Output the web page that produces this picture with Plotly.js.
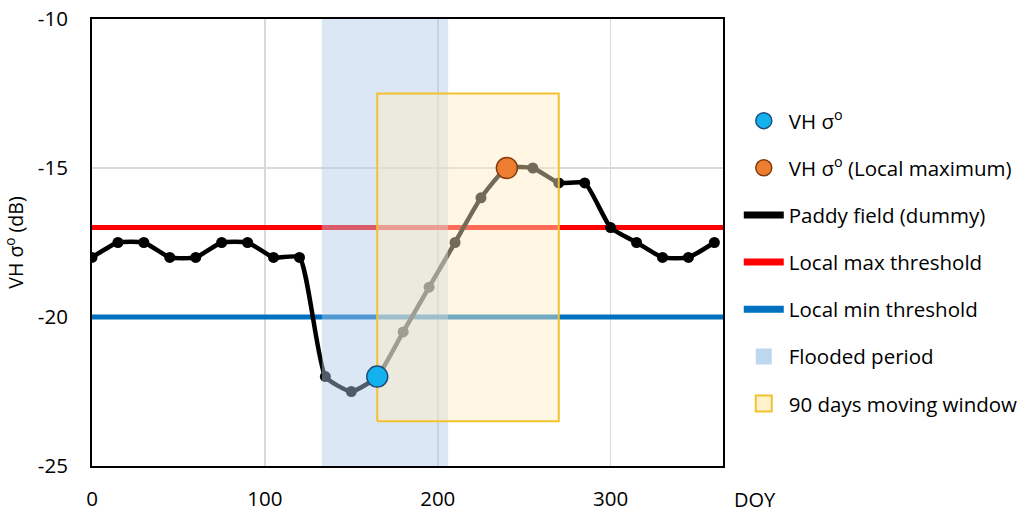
<!DOCTYPE html>
<html><head><meta charset="utf-8">
<script src="https://cdn.plot.ly/plotly-3.0.1.min.js"></script>
<style>html,body{margin:0;padding:0;background:#fff}#chart{width:1032px;height:512px}</style>
</head><body><div id="chart"></div>
<script>
// ---- data ----
const doy = [0,15,30,45,60,75,90,105,120,135,150,165,180,195,210,225,240,255,270,285,300,315,330,345,360];
const vhDb = [-18,-17.5,-17.5,-18,-18,-17.5,-17.5,-18,-18,-22,-22.5,-22,-20.5,-19,-17.5,-16,-15,-15,-15.5,-15.5,-17,-17.5,-18,-18,-17.5];
const localMaxThreshold = -17;
const localMinThreshold = -20;
const doyRange = [0, 365];
const dbRange = [-25, -10];
const floodedPeriod = [133, 206];
const movingWindowDoy = [165, 270];
const movingWindowDb = [-23.5, -12.5];
const vhPointDoy = 165;
const localMaxDoy = 240;
const xTickVals = [0, 100, 200, 300];
const yTickVals = [-25, -20, -15, -10];

// ---- build ----
const FONT = '"Open Sans", "Noto Sans", sans-serif';
const rect = (xs, ys) => ({x: [xs[0], xs[1], xs[1], xs[0], xs[0]], y: [ys[0], ys[0], ys[1], ys[1], ys[0]]});
const fr = rect(floodedPeriod, dbRange);
const wr = rect(movingWindowDoy, movingWindowDb);
const valAt = d => vhDb[doy.indexOf(d)];
const legendOnly = (name, rank, extra) => Object.assign({x: [null], y: [null], name: name,
  legendrank: rank, legendgroup: 'g' + rank, showlegend: true}, extra);

const traces = [
  {x: doyRange, y: [localMaxThreshold, localMaxThreshold], mode: 'lines', showlegend: false,
   line: {color: '#FF0000', width: 5}},
  {x: doyRange, y: [localMinThreshold, localMinThreshold], mode: 'lines', showlegend: false,
   line: {color: '#0070C0', width: 5}},
  {x: doy, y: vhDb, mode: 'lines+markers', showlegend: false,
   line: {color: '#000000', width: 4.5, shape: 'spline', smoothing: 0.5},
   marker: {color: '#000000', size: 11}},
  {x: fr.x, y: fr.y, mode: 'lines', fill: 'toself', fillcolor: 'rgba(178,202,235,0.45)',
   line: {width: 0}, showlegend: false},
  {x: wr.x, y: wr.y, mode: 'lines', fill: 'toself', fillcolor: 'rgba(255,238,195,0.45)',
   line: {color: '#F2C22E', width: 2}, showlegend: false},
  {x: [vhPointDoy], y: [valAt(vhPointDoy)], mode: 'markers', showlegend: false,
   marker: {color: '#14B1EE', size: 21, line: {color: '#1F4E79', width: 1.5}}},
  {x: [localMaxDoy], y: [valAt(localMaxDoy)], mode: 'markers', showlegend: false,
   marker: {color: '#ED7D31', size: 21, line: {color: '#843C0C', width: 1.5}}},
  legendOnly('VH σ<sup>o</sup>', 1, {mode: 'markers',
   marker: {color: '#14B1EE', size: 21, line: {color: '#1F4E79', width: 1.5}}}),
  legendOnly('VH σ<sup>o</sup> (Local maximum)', 2, {mode: 'markers',
   marker: {color: '#ED7D31', size: 21, line: {color: '#843C0C', width: 1.5}}}),
  legendOnly('Paddy field (dummy)', 3, {mode: 'lines', line: {color: '#000000', width: 7}}),
  legendOnly('Local max threshold', 4, {mode: 'lines', line: {color: '#FF0000', width: 7}}),
  legendOnly('Local min threshold', 5, {mode: 'lines', line: {color: '#0070C0', width: 7}}),
  legendOnly('Flooded period', 6, {mode: 'markers',
   marker: {symbol: 'square', color: '#BDD7EE', size: 24}}),
  legendOnly('90 days moving window', 7, {mode: 'markers',
   marker: {symbol: 'square', color: '#FFF2CC', size: 22, line: {color: '#F2C22E', width: 2}}})
];

const layout = {
  width: 1032, height: 512,
  margin: {l: 92, r: 309, t: 19, b: 46, autoexpand: false},
  paper_bgcolor: '#ffffff', plot_bgcolor: '#ffffff',
  font: {family: FONT, size: 20, color: '#000000'},
  showlegend: true,
  hovermode: false,
  legend: {x: 1.025, y: 0.817, xanchor: 'left', yanchor: 'top', traceorder: 'grouped', tracegroupgap: 17.5,
           itemwidth: 40,
           font: {family: FONT, size: 20.5, color: '#000'}, bgcolor: 'rgba(0,0,0,0)'},
  xaxis: {range: doyRange, tickvals: xTickVals, ticktext: xTickVals.map(String),
          showgrid: true, gridcolor: '#D9D9D9', gridwidth: 1.5,
          zeroline: false, showline: true, linecolor: '#000', linewidth: 2, mirror: true,
          ticks: '', ticklabelstandoff: 13, tickfont: {family: FONT, size: 20.5}},
  yaxis: {range: dbRange, tickvals: yTickVals, ticktext: yTickVals.map(String),
          showgrid: true, gridcolor: '#D9D9D9', gridwidth: 1.5,
          zeroline: false, showline: true, linecolor: '#000', linewidth: 2, mirror: true,
          ticks: '', ticklabelstandoff: 18, tickfont: {family: FONT, size: 20.5},
          title: {text: 'VH σ<sup>o</sup> (dB)', standoff: 10, font: {family: FONT, size: 19.5}}},
  annotations: [{text: 'DOY', xref: 'paper', yref: 'paper', x: 1.05, y: -0.075, xanchor: 'center', yanchor: 'middle',
                 showarrow: false, font: {family: FONT, size: 20}}]
};

Plotly.newPlot('chart', traces, layout, {displayModeBar: false, staticPlot: true});
</script></body></html>
